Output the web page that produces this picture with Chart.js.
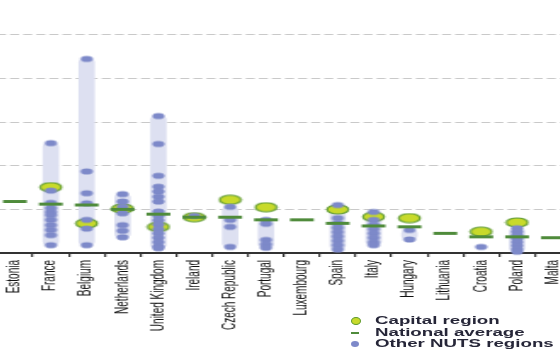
<!DOCTYPE html>
<html>
<head>
<meta charset="utf-8">
<script src="https://cdn.jsdelivr.net/npm/chart.js@4/dist/chart.umd.min.js"></script>
<style>
  html, body { margin: 0; padding: 0; background: #fff; overflow: hidden; }
  body { width: 560px; height: 353px; position: relative; }
  /* the reference is stretched sideways, so the chart is drawn narrow and scaled */
  #wrap { position: absolute; left: 0; top: 0; transform-origin: 0 0; transform: translateX(-3px) scaleX(1.7); }
  #legend { position: absolute; left: 351px; top: 315px; font: bold 11px "Liberation Sans", Arial, sans-serif; color: #262638; }
  #legend .row { position: relative; height: 11.7px; }
  #legend .mk { position: absolute; left: 0; top: 50%; transform: translateY(-50%); }
  #legend .tx { position: absolute; left: 24px; top: 0; line-height: 11.7px; white-space: nowrap; transform-origin: 0 50%; transform: scaleX(1.7); }
  .cap { width: 8px; height: 6px; border-radius: 50%; background: #c8da2b; border: 1px solid #5e9a30; }
  .avg { width: 8px; height: 2px; background: #4f8b3b; }
  .oth { width: 8px; height: 6px; border-radius: 50%; background: #7d89c9; }
</style>
</head>
<body>
<div id="wrap"><canvas id="canvasRegions" width="342" height="353"></canvas></div>
<div id="legend">
  <div class="row"><span class="mk cap"></span><span class="tx">Capital region</span></div>
  <div class="row"><span class="mk avg"></span><span class="tx">National average</span></div>
  <div class="row"><span class="mk oth"></span><span class="tx">Other NUTS regions</span></div>
</div>
<script>
// data
// =================================

const labels = ['Estonia', 'France', 'Belgium', 'Netherlands', 'United Kingdom', 'Ireland',
  'Czech Republic', 'Portugal', 'Luxembourg', 'Spain', 'Italy', 'Hungary', 'Lithuania',
  'Croatia', 'Poland', 'Malta'];

const nationalAverage = [118, 112, 110, 100, 89, 82, 82, 76, 76, 68, 62, 60, 45, 37, 37, 35];

const capitalRegion = [null, 151, 68, 102, 60, 82, 122, 105, null, 100, 83, 80, null, 49, 70, null];

// one list per country, same order as labels
const otherRegions = [
  [],
  [252, 143, 115, 103, 94, 87, 76, 64, 53, 41, 18],
  [445, 187, 137, 114, 76, 56, 18],
  [135, 118, 106, 91, 64, 51, 36],
  [314, 250, 177, 152, 141, 129, 118, 95, 85, 75, 65, 55, 45, 35, 25, 15, 11],
  [85],
  [106, 76, 60, 14],
  [76, 67, 30, 20, 12],
  [],
  [110, 80, 68, 58, 48, 38, 28, 18, 8],
  [94, 76, 65, 55, 45, 35, 25, 18],
  [53, 31],
  [],
  [14],
  [57, 49, 41, 33, 25, 17, 9, 3],
  []
];

// helpers
// =================================

function ellipse(w, h, fill, stroke) {
  const c = document.createElement('canvas');
  c.width = Math.ceil(w) + 2;
  c.height = Math.ceil(h) + 2;
  const g = c.getContext('2d');
  g.beginPath();
  g.ellipse(c.width / 2, c.height / 2, w / 2, h / 2, 0, 0, Math.PI * 2);
  g.fillStyle = fill;
  g.fill();
  if (stroke) {
    g.lineWidth = 1.2;
    g.strokeStyle = stroke;
    g.stroke();
  }
  return c;
}

const ranges = otherRegions.map(v => v.length > 1 ? [Math.min(...v), Math.max(...v)] : null);
const capitalPoints = labels.map((c, i) => capitalRegion[i] == null ? null : { x: c, y: capitalRegion[i] }).filter(Boolean);
const otherPoints = labels.flatMap((c, i) => otherRegions[i].map(y => ({ x: c, y: y })));
const averagePoints = labels.map((c, i) => ({ x: c, y: nationalAverage[i] }));

const blueDot = ellipse(7.2, 6.2, '#7d89c9');
const capitalDot = ellipse(12.5, 9, '#c8da2b', '#5e9a30');

// Chart.js setting
// =================================

const ctx = document.getElementById('canvasRegions').getContext('2d');
const regionChart = new Chart(ctx, {
  type: 'bar',
  data: {
    labels: labels,
    datasets: [
      {
        type: 'line',
        label: 'National average',
        data: averagePoints,
        showLine: false,
        pointStyle: 'line',
        pointRadius: 7,
        borderWidth: 3,
        borderColor: '#4f8b3b',
        clip: false,
        order: 0
      },
      {
        type: 'line',
        label: 'Other NUTS regions',
        data: otherPoints,
        showLine: false,
        pointStyle: blueDot,
        pointRadius: 4,
        clip: false,
        order: 1
      },
      {
        type: 'line',
        label: 'Capital region',
        data: capitalPoints,
        showLine: false,
        pointStyle: capitalDot,
        pointRadius: 5,
        clip: false,
        order: 2
      },
      {
        label: 'range',
        data: ranges,
        backgroundColor: '#dde0f1',
        barThickness: 9,
        borderSkipped: false,
        borderRadius: 4,
        order: 3
      }
    ]
  },
  options: {
    responsive: false,
    devicePixelRatio: 1,
    animation: false,
    layout: { padding: 0, autoPadding: false },
    plugins: {
      legend: { display: false },
      tooltip: { enabled: false }
    },
    scales: {
      x: {
        offset: true,
        afterFit: s => { s.height = 100; },
        grid: { drawOnChartArea: false, tickLength: 4, color: '#333', lineWidth: 1.2, offset: true },
        border: { color: '#333', width: 2 },
        ticks: {
          autoSkip: false,
          maxRotation: 90,
          minRotation: 90,
          padding: 3,
          color: '#111',
          font: { family: '"Liberation Sans", Arial, sans-serif', size: 10 }
        }
      },
      y: {
        min: 0,
        max: 580,
        afterFit: s => { s.width = 0; },
        ticks: { display: false, stepSize: 100 },
        grid: {
          drawTicks: false,
          lineWidth: 1,
          color: c => (c.tick && c.tick.value > 0 && c.tick.value % 100 === 0) ? '#c9c9c9' : 'rgba(0,0,0,0)'
        },
        border: { display: false, dash: [5.3, 2.4] }
      }
    }
  }
});
</script>
</body>
</html>
